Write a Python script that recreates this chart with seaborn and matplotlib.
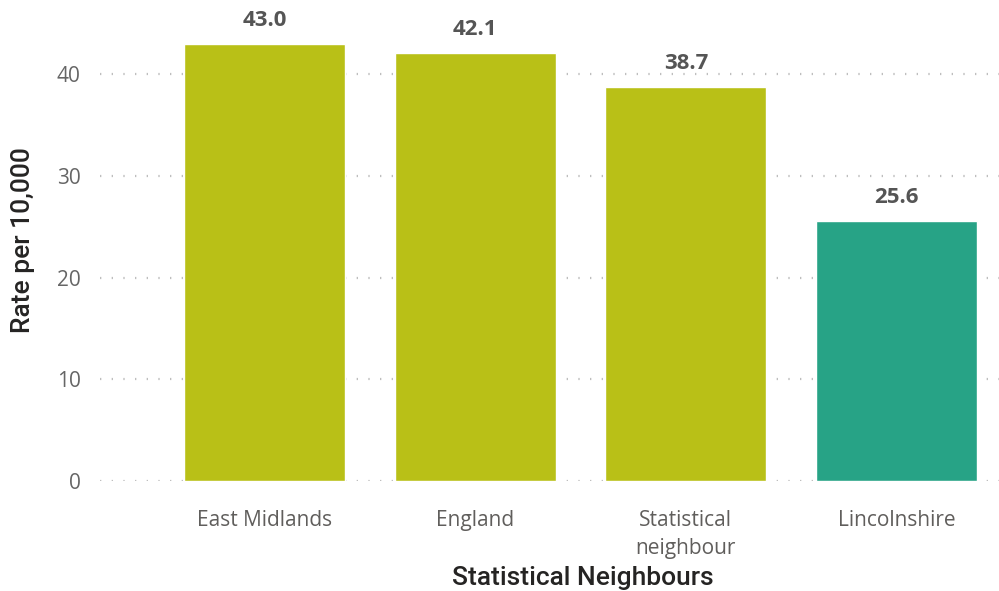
import matplotlib
matplotlib.use("Agg")
import matplotlib.pyplot as plt
import seaborn as sns
import pandas as pd

# Rates per 10,000 by comparator area
categories = ["East Midlands", "England", "Statistical\nneighbour", "Lincolnshire"]
rates = [43.0, 42.1, 38.7, 25.6]
bar_colours = ["#B9C017", "#B9C017", "#B9C017", "#27A386"]
y_ticks = [0, 10, 20, 30, 40]

sns.set_theme(style="white")
plt.rcParams["font.family"] = ["Open Sans", "DejaVu Sans"]

df = pd.DataFrame({"area": categories, "rate": rates})
palette = dict(zip(categories, bar_colours))

fig = plt.figure(figsize=(9.99, 5.91), dpi=100)
ax = fig.add_axes([100 / 999, 110 / 591, 899 / 999, 476 / 591])

sns.barplot(data=df, x="area", y="rate", hue="area", palette=palette,
            order=categories, hue_order=categories, dodge=False,
            width=0.765, saturation=1, legend=False, ax=ax, zorder=3)

ax.set_xlim(-0.78, 3.486)
ax.set_ylim(0, 46.8)
ax.set_yticks(y_ticks)
ax.set_yticklabels([str(t) for t in y_ticks])

# dotted horizontal gridlines
ax.yaxis.grid(True, color="#BEBEBE", linewidth=1.6, linestyle=(0, (0.6, 4.65)), zorder=0)
ax.xaxis.grid(False)
for s in ax.spines.values():
    s.set_visible(False)

ax.tick_params(axis="y", length=0, pad=14, labelsize=15, labelcolor="#666666")
ax.tick_params(axis="x", length=0, pad=21, labelsize=15, labelcolor="#605E5C")
for lbl in ax.get_xticklabels():
    lbl.set_linespacing(1.45)

# value labels above the bars
for i, v in enumerate(rates):
    ax.annotate(f"{v:.1f}", xy=(i, v), xytext=(0, 17), textcoords="offset points",
                ha="center", va="center", fontsize=16, fontweight="bold",
                color="#555555")

ax.set_xlabel("Statistical Neighbours", fontsize=19, color="#252423",
              family=["Roboto", "DejaVu Sans"], fontweight="medium")
ax.xaxis.set_label_coords(483 / 899, -97 / 476)
ax.xaxis.label.set_va("center")
ax.set_ylabel("Rate per 10,000", fontsize=19, color="#252423",
              family=["Roboto", "DejaVu Sans"], fontweight="medium")
ax.yaxis.set_label_coords(-77 / 899, 241 / 476)
ax.yaxis.label.set_va("center")

fig.savefig("out.png", dpi=100)
